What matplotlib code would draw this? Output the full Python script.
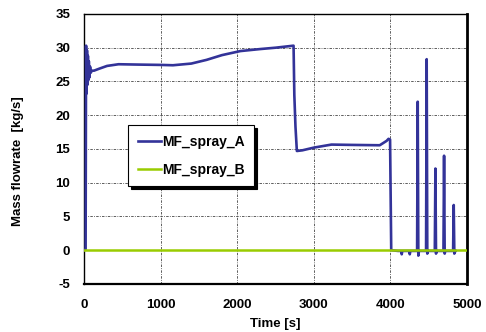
import matplotlib
matplotlib.use('Agg')
import matplotlib.pyplot as plt

# MF_spray_A
t_a = [0, 20, 26, 32, 38, 44, 50, 56, 62, 70, 78, 88, 100, 130, 200, 300, 450,
       700, 1000, 1160, 1400, 1600, 1800, 2040, 2300, 2500, 2735, 2745, 2760,
       2778, 2850, 3000, 3230, 3500, 3860, 3950, 3975, 3995, 4010, 4100,
       4140, 4147, 4155, 4245, 4252, 4260,
       4348, 4356, 4364, 4372, 4465, 4473, 4481, 4489,
       4579, 4587, 4595, 4603, 4692, 4700, 4708, 4716,
       4818, 4826, 4834, 4842, 4850]
y_a = [0, 0.2, 30.3, 23.2, 29.6, 24.5, 28.8, 25.2, 28.0, 25.6, 27.2, 26.3, 26.6, 26.6, 26.9, 27.3, 27.55,
       27.5, 27.45, 27.4, 27.65, 28.2, 28.9, 29.5, 29.8, 30.0, 30.3, 23.0, 18.3,
       14.7, 14.8, 15.2, 15.65, 15.6, 15.55, 16.2, 16.5, 16.4, 0.0, -0.1,
       -0.1, -0.6, -0.1, -0.1, -0.6, -0.1,
       -0.1, 22.0, -0.8, -0.1, -0.1, 28.3, -0.5, -0.1,
       -0.1, 12.1, -0.5, -0.1, -0.1, 14.0, -0.5, -0.1,
       -0.1, 6.7, -0.5, -0.1, -0.1]

# MF_spray_B stays at zero
t_b = [0, 5000]
y_b = [0, 0]

plt.rcParams['font.family'] = ['Liberation Sans', 'DejaVu Sans']
plt.rcParams['font.weight'] = 'bold'
plt.rcParams['axes.unicode_minus'] = False

fig = plt.figure(figsize=(4.86, 3.32), dpi=100)
ax = fig.add_axes([0.173, 0.1446, 0.788, 0.8134])

ax.plot(t_a, y_a, color='#333399', lw=1.9, label='MF_spray_A', zorder=3)
ax.plot(t_b, y_b, color='#99cc00', lw=1.8, label='MF_spray_B', zorder=4)

ax.set_xlim(0, 5000)
ax.set_ylim(-5, 35)
ax.set_xticks(range(0, 5001, 1000))
ax.set_yticks(range(-5, 36, 5))
ax.tick_params(length=0, labelsize=9.5)
ax.tick_params(axis='x', pad=11)
ax.tick_params(axis='y', pad=10)
for lab in ax.get_xticklabels() + ax.get_yticklabels():
    lab.set_fontweight('bold')

ax.grid(True, color='#444444', ls=(0, (3, 1.5, 1, 1.5)), lw=0.6)
for s in ax.spines.values():
    s.set_color('black')
    s.set_linewidth(1.0)
ax.spines['right'].set_linewidth(2.0)
ax.spines['bottom'].set_linewidth(1.6)

ax.set_xlabel('Time [s]', fontsize=9.5, fontweight='bold', labelpad=5)
ax.set_ylabel('Mass flowrate  [kg/s]', fontsize=9.5, fontweight='bold')
ax.yaxis.set_label_coords(-0.157, 0.456)

leg = ax.legend(loc='upper left', bbox_to_anchor=(0.115, 0.589), borderaxespad=0,
                fancybox=False, shadow={'color': 'black', 'alpha': 1}, framealpha=1,
                edgecolor='black', fontsize=10, handlelength=1.65,
                handletextpad=0.1, borderpad=0.7, labelspacing=1.0)
leg.get_frame().set_linewidth(0.8)
for tx in leg.get_texts():
    tx.set_fontweight('bold')

fig.savefig('out.png', dpi=100)
